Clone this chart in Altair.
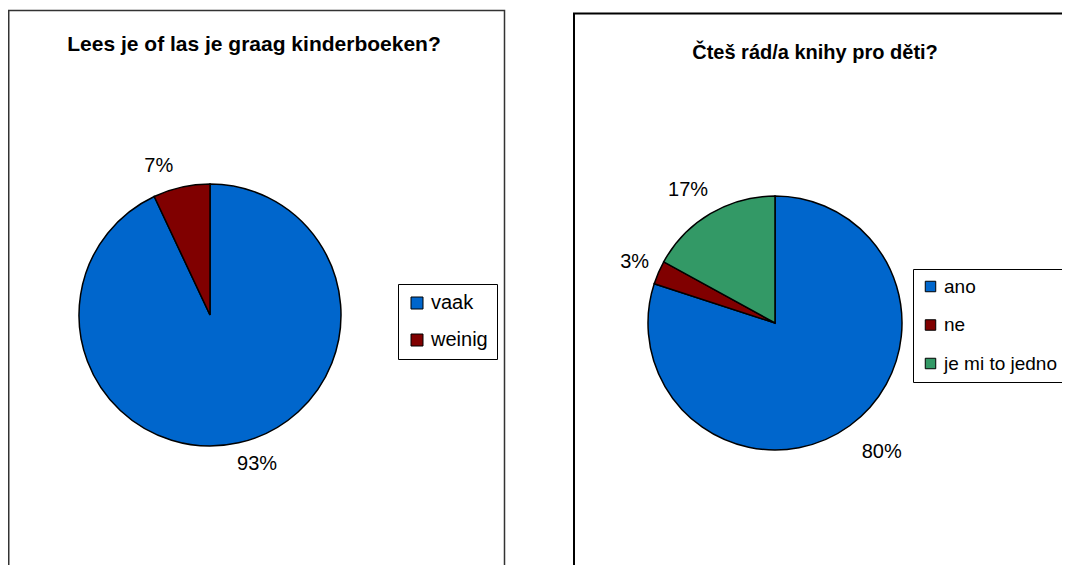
import altair as alt
import pandas as pd

left_title = "Lees je of las je graag kinderboeken?"
left_categories = ["vaak", "weinig"]
left_values = [93, 7]

right_title = "Čteš rád/a knihy pro děti?"
right_categories = ["ano", "ne", "je mi to jedno"]
right_values = [80, 3, 17]

left_colors = ["#0066CC", "#800000"]
right_colors = ["#0066CC", "#800000", "#339966"]

FONT = "Liberation Sans"

left_df = pd.DataFrame({"cat": left_categories, "value": left_values,
                        "idx": list(range(len(left_categories)))})
right_df = pd.DataFrame({"cat": right_categories, "value": right_values,
                         "idx": list(range(len(right_categories)))})
one = pd.DataFrame({"k": [0]})


def frame(x, x2, y, y2, sw, col):
    return alt.Chart(one).mark_rect(fillOpacity=0, stroke=col, strokeWidth=sw).encode(
        x=alt.value(x), x2=alt.value(x2), y=alt.value(y), y2=alt.value(y2))


def title(text, x, y, size):
    return alt.Chart(one).mark_text(font=FONT, fontSize=size, fontWeight="bold", color="black",
                                    align="center", baseline="alphabetic").encode(
        text=alt.value(text), x=alt.value(x), y=alt.value(y))


def pie(df, cx, cy, r, colors, legend):
    return alt.Chart(df).mark_arc(outerRadius=r, stroke="black", strokeWidth=1.5).encode(
        theta=alt.Theta("value:Q", stack=True),
        order=alt.Order("idx:Q"),
        color=alt.Color("cat:N", scale=alt.Scale(domain=list(df["cat"]), range=colors),
                        legend=legend),
        x=alt.value(cx), y=alt.value(cy))


def label(df, cat, cx, cy, radius, dx, dy):
    return alt.Chart(df).transform_calculate(label="datum.value + '%'").mark_text(
        radius=radius, dx=dx, dy=dy, font=FONT, fontSize=20, color="black",
        align="center", baseline="middle").encode(
        theta=alt.Theta("value:Q", stack=True),
        order=alt.Order("idx:Q"),
        text=alt.condition(f"datum.cat == '{cat}'", "label:N", alt.value("")),
        x=alt.value(cx), y=alt.value(cy))


def legend(x, y, pad, sym, rowpad, fsize, offset):
    return alt.Legend(title=None, orient="none", legendX=x, legendY=y,
                      strokeColor="black", fillColor="white", padding=pad,
                      rowPadding=rowpad, symbolType="square", symbolSize=sym,
                      symbolStrokeColor="black", symbolStrokeWidth=1,
                      labelFont=FONT, labelFontSize=fsize, labelColor="black",
                      labelOffset=offset)


LCX, LCY, LR = 202, 307, 131
RCX, RCY, RR = 767, 315, 127

layers = [
    frame(0.75, 496.5, 2.5, 700, 1.5, "#333333"),
    frame(566, 1200, 5.5, 700, 2, "black"),
    title(left_title, 246, 43, 21),
    title(right_title, 807, 51, 20),
    pie(left_df, LCX, LCY, LR, left_colors, legend(390, 276, 9, 144, 17, 20, 4)),
    pie(right_df, RCX, RCY, RR, right_colors, legend(905, 261, 8, 110, 18.5, 19, 4)),
    label(left_df, "weinig", LCX, LCY, 157, -17, 4),
    label(left_df, "vaak", LCX, LCY, 156, 13, -3),
    label(right_df, "ne", RCX, RCY, 153, 0, 0),
    label(right_df, "je mi to jedno", RCX, RCY, 159, -6, 4),
    label(right_df, "ano", RCX, RCY, 168, 8, -7),
]

chart = alt.layer(*layers).resolve_scale(color="independent").properties(
    width=1054, height=557, autosize=alt.AutoSizeParams(type="none"), padding=0
).configure_view(stroke=None)

chart.save("out.html", embed_options={"renderer": "svg", "actions": False})
